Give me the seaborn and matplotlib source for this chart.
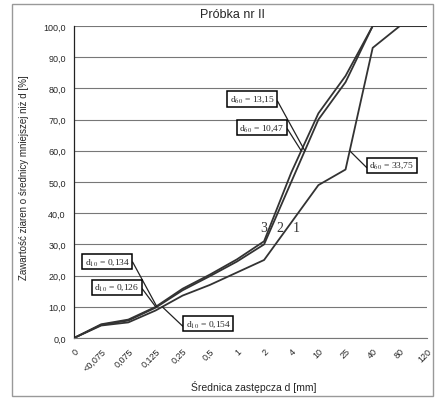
import numpy as np
import pandas as pd
import matplotlib
matplotlib.use('Agg')
import matplotlib.pyplot as plt
from matplotlib.patches import Rectangle
import seaborn as sns

# --- Data ---
categories = ['0', '<0,075', '0,075', '0,125', '0,25', '0,5', '1', '2', '4', '10', '25', '40', '80', '120']
curve_1 = [0, 4.0, 5.0, 8.8, 13.6, 17.0, 21.0, 25.0, 37.0, 49.0, 54.0, 93.0, 100, 100]
curve_2 = [0, 4.2, 5.6, 9.7, 15.3, 19.8, 24.5, 30.0, 50.0, 70.0, 82.0, 100, 100, 100]
curve_3 = [0, 4.4, 5.9, 9.95, 15.8, 20.3, 25.2, 31.0, 53.0, 72.0, 84.0, 100, 100, 100]

d10_labels = {'1': '0,154', '2': '0,134', '3': '0,126'}
d60_labels = {'1': '33,75', '2': '13,15', '3': '10,47'}

curves = {'1': curve_1, '2': curve_2, '3': curve_3}
pos = np.arange(len(categories))
df = pd.concat([pd.DataFrame({'pos': pos, 'value': v, 'curve': k}) for k, v in curves.items()])

sns.set_style('white')
plt.rcParams['font.family'] = ['Liberation Sans', 'DejaVu Sans']
plt.rcParams['mathtext.fontset'] = 'stix'

fig = plt.figure(figsize=(4.39, 4.02), dpi=100)
ax = fig.add_axes([74 / 439, 1 - 339 / 402, (427 - 74) / 439, (339 - 27) / 402])

line_col = '#333333'
sns.lineplot(data=df, x='pos', y='value', hue='curve', palette={k: line_col for k in curves},
             legend=False, ax=ax, linewidth=1.3)

ax.set_xlim(0, len(categories) - 1)
ax.set_ylim(0, 100)
yt = np.arange(0, 101, 10)
ax.set_yticks(yt)
ax.set_yticklabels([f'{v:.1f}'.replace('.', ',') for v in yt], fontsize=6.5)
ax.set_xticks(pos)
ax.set_xticklabels(categories, fontsize=6.5, rotation=45, ha='right', rotation_mode='anchor')
ax.tick_params(axis='both', length=3, width=0.6, color='#555555', pad=3)
ax.grid(axis='y', color='#777777', linewidth=0.8)
ax.set_axisbelow(True)
for s in ['top', 'right']:
    ax.spines[s].set_visible(False)
ax.spines['left'].set_color('#222222')
ax.spines['left'].set_linewidth(0.9)
ax.spines['bottom'].set_color('#777777')
ax.spines['bottom'].set_linewidth(0.8)
ax.set_xlabel('')
ax.set_ylabel('')

# curve numbers
for k, dx in [('3', 7.0), ('2', 7.6), ('1', 8.17)]:
    ax.text(dx, 35.5, k, family='Liberation Serif', fontsize=10, color='#333333', ha='center', va='center')


def crossing(vals, level):
    return np.interp(level, vals, pos)


box = dict(boxstyle='square,pad=0.25', fc='white', ec='black', lw=1.1)
serif = dict(family='Liberation Serif', fontsize=6.8)
arrow = dict(arrowstyle='-', color='#222222', lw=0.9, shrinkA=0, shrinkB=0)

# d10 annotations: (curve, text position, attach corner)
for k, xt, rel in [('2', (1.22, 24.4), (1, 1)), ('3', (1.58, 16.3), (1, 0.7)), ('1', (4.94, 4.6), (0, 0))]:
    ax.annotate(r'd$_{10}$ = ' + d10_labels[k], xy=(crossing(curves[k], 10), 10), xytext=xt,
                ha='center', va='center', bbox=box, arrowprops=dict(arrow, relpos=rel), **serif)

for k, xt, rel in [('2', (6.56, 76.6), (1, 0.8)), ('3', (6.92, 67.5), (1, 0.8)), ('1', (11.71, 55.4), (0, 0))]:
    ax.annotate(r'd$_{60}$ = ' + d60_labels[k], xy=(crossing(curves[k], 60), 60), xytext=xt,
                ha='center', va='center', bbox=box, arrowprops=dict(arrow, relpos=rel), **serif)

fig.text(232 / 439, 1 - 15 / 402, 'Próbka nr II', ha='center', va='center', fontsize=9)
fig.text(24 / 439, 1 - 178 / 402, 'Zawartość ziaren o średnicy mniejszej niż d [%]', rotation=90,
         ha='center', va='center', fontsize=7)
fig.text(254 / 439, 1 - 387 / 402, 'Średnica zastępcza d [mm]', ha='center', va='center', fontsize=7.5)

fig.patches.append(Rectangle((12 / 439, 5 / 402), (433 - 12) / 439, (397 - 5) / 402,
                             transform=fig.transFigure, fill=False, ec='#999999', lw=1.0))

fig.savefig('out.png', dpi=100)
